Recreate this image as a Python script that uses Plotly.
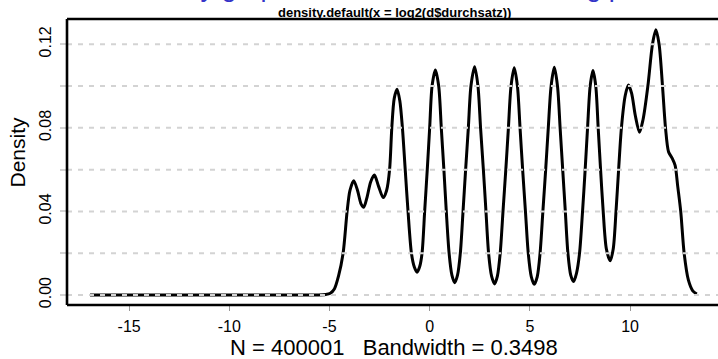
import plotly.graph_objects as go

# ---- data ----
log2_durchsatz = [
    -16.95, -12.0, -8.0, -5.6, -5.2, -4.96,
    -4.75, -4.55, -4.32, -4.12, -3.98, -3.79, -3.60, -3.42, -3.29, -3.12, -2.95, -2.76, -2.55, -2.32,
    -2.15, -2.00, -1.89, -1.77, -1.63, -1.49, -1.36, -1.22, -1.08, -0.91, -0.77, -0.63,
    -0.50, -0.38, -0.25, -0.12, 0.00, 0.12, 0.284, 0.45, 0.58, 0.71, 0.83, 0.97, 1.11, 1.25,
    1.39, 1.53, 1.665, 1.795, 1.93, 2.06, 2.243, 2.41, 2.54, 2.68, 2.81, 2.94, 3.09, 3.24,
    3.38, 3.52, 3.66, 3.80, 3.93, 4.06, 4.22, 4.38, 4.51, 4.64, 4.78, 4.92, 5.07, 5.22,
    5.37, 5.51, 5.65, 5.79, 5.92, 6.06, 6.22, 6.38, 6.51, 6.64, 6.77, 6.90, 7.04, 7.18,
    7.33, 7.48, 7.63, 7.76, 7.88, 8.01, 8.15, 8.29, 8.41, 8.53, 8.66, 8.82, 9.01,
    9.16, 9.30, 9.43, 9.57, 9.76, 9.92, 10.08, 10.26, 10.47,
    10.65, 10.89, 11.12, 11.29, 11.45, 11.62, 11.77, 11.92, 12.10, 12.25, 12.38, 12.53, 12.70, 12.91, 13.13, 13.33,
]
density = [
    0.0, 0.0, 0.0, 0.0, 0.0002, 0.0008,
    0.003, 0.009, 0.020, 0.040, 0.050, 0.0547, 0.050, 0.0435, 0.042, 0.047, 0.054, 0.0574, 0.052, 0.0466,
    0.050, 0.060, 0.080, 0.094, 0.0985, 0.093, 0.080, 0.060, 0.040, 0.020, 0.0135, 0.0109,
    0.0135, 0.020, 0.040, 0.060, 0.080, 0.100, 0.1077, 0.100, 0.080, 0.060, 0.040, 0.020, 0.0095, 0.0059,
    0.0095, 0.020, 0.040, 0.060, 0.080, 0.100, 0.1093, 0.100, 0.080, 0.060, 0.040, 0.020, 0.0090, 0.0053,
    0.0090, 0.020, 0.040, 0.060, 0.080, 0.100, 0.1088, 0.100, 0.080, 0.060, 0.040, 0.020, 0.0088, 0.0051,
    0.0088, 0.020, 0.040, 0.060, 0.080, 0.100, 0.1090, 0.100, 0.080, 0.060, 0.040, 0.020, 0.0095, 0.0064,
    0.0105, 0.020, 0.040, 0.060, 0.080, 0.100, 0.1074, 0.100, 0.080, 0.060, 0.040, 0.022, 0.0164,
    0.022, 0.040, 0.060, 0.080, 0.0955, 0.1005, 0.0965, 0.086, 0.0779,
    0.084, 0.100, 0.120, 0.1269, 0.120, 0.100, 0.080, 0.0686, 0.0655, 0.062, 0.052, 0.040, 0.020, 0.0072, 0.002, 0.0005,
]

x_tick_vals = [-15, -10, -5, 0, 5, 10]
x_tick_text = ["-15", "-10", "-5", "0", "5", "10"]
y_grid_vals = [0.0, 0.02, 0.04, 0.06, 0.08, 0.10, 0.12]
y_tick_text = ["0.00", "", "0.04", "", "0.08", "", "0.12"]

main_title = "density.default(x = log2(d$durchsatz))"
blue_title = "Density graph of the durchsatz data, log plot"
x_title = "N = 400001   Bandwidth = 0.3498"
y_title = "Density"

FONT = "Liberation Sans, Arial, Helvetica, sans-serif"
W, H = 718, 359
ML, MR, MT, MB = 67, 0, 19, 54
plot_h = H - MT - MB

def py(p):
    # pixel row (from top) -> paper y
    return (H - MB - p) / plot_h

fig = go.Figure()
fig.add_trace(go.Scatter(
    x=log2_durchsatz, y=density, mode="lines",
    line=dict(color="black", width=3, shape="spline", smoothing=0.8),
    hoverinfo="skip", showlegend=False,
))

shapes = []
for v in y_grid_vals:
    shapes.append(dict(type="line", xref="paper", yref="y", x0=0, x1=1, y0=v, y1=v,
                       line=dict(color="#d3d3d3", width=2, dash="5px,6px"), layer="above"))
frame = dict(color="black", width=2.6)
shapes += [
    dict(type="line", xref="paper", yref="paper", x0=0, x1=0, y0=0, y1=1, line=frame, layer="above"),
    dict(type="line", xref="paper", yref="paper", x0=0, x1=1.02, y0=1, y1=1, line=frame, layer="above"),
    dict(type="line", xref="paper", yref="paper", x0=0, x1=1.02, y0=0, y1=0, line=frame, layer="above"),
]

annotations = [
    dict(text="<b>%s</b>" % main_title, xref="paper", yref="paper", x=0.503, y=py(12.5),
         xanchor="center", yanchor="middle", showarrow=False,
         font=dict(family=FONT, size=13, color="black")),
    dict(text=blue_title, xref="paper", yref="paper", x=0.494, y=py(4),
         xanchor="center", yanchor="bottom", showarrow=False,
         font=dict(family=FONT, size=27, color="#3434c8")),
    dict(text=x_title, xref="paper", yref="paper", x=0.503, y=py(347),
         xanchor="center", yanchor="middle", showarrow=False,
         font=dict(family=FONT, size=22, color="black")),
    dict(text=y_title, xref="paper", yref="paper", x=-(ML - 17) / (W - ML - MR), y=py(152.5),
         xanchor="center", yanchor="middle", textangle=-90, showarrow=False,
         font=dict(family=FONT, size=21, color="black")),
]

fig.update_layout(
    width=W, height=H,
    margin=dict(l=ML, r=MR, t=MT, b=MB, pad=0),
    paper_bgcolor="white", plot_bgcolor="white",
    shapes=shapes, annotations=annotations,
    xaxis=dict(range=[-18.1, 14.39], tickvals=x_tick_vals, ticktext=x_tick_text,
               ticks="outside", ticklen=5, tickwidth=1, tickcolor="#999999",
               showgrid=False, zeroline=False, showline=False,
               tickfont=dict(family=FONT, size=16, color="black"), ticklabelstandoff=2),
    yaxis=dict(range=[-0.0048, 0.1321], tickvals=y_grid_vals, ticktext=y_tick_text,
               tickangle=-90, ticks="outside", ticklen=6, tickwidth=2, tickcolor="#d3d3d3",
               showgrid=False, zeroline=False, showline=False,
               tickfont=dict(family=FONT, size=16, color="black"), ticklabelstandoff=3),
)

fig.write_html("out.html", config={"displayModeBar": False},
               post_script="document.body.style.margin='0';document.body.style.overflow='hidden';")
